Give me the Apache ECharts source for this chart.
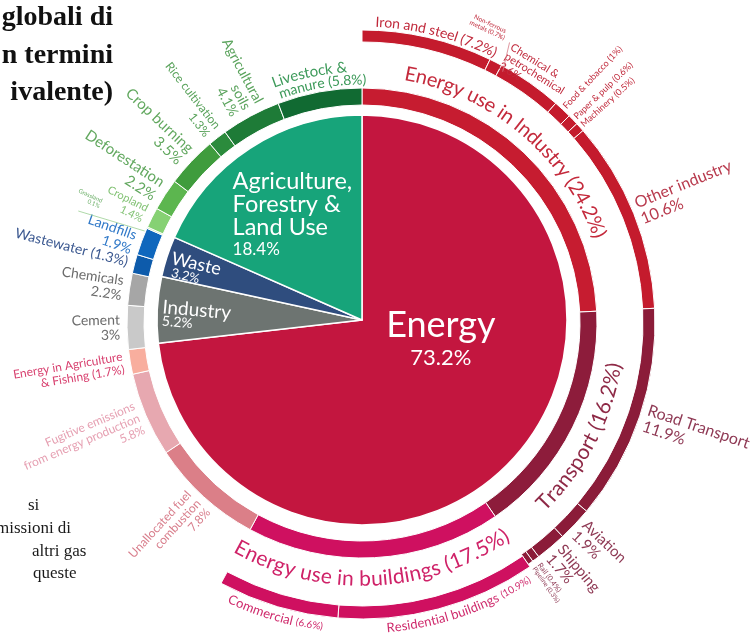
<!DOCTYPE html>
<html>
<head>
<meta charset="utf-8">
<script src="https://cdn.jsdelivr.net/npm/echarts@6/dist/echarts.min.js"></script>
<style>
  html, body { margin: 0; padding: 0; background: #ffffff; }
  #chart { width: 755px; height: 637px; }
</style>
</head>
<body>
<div id="chart"></div>
<script>
// ---- Global greenhouse gas emissions by sector (share of total, %) ----
const sectorNames = ['Energy', 'Industry', 'Waste', 'Agriculture, Forestry & Land Use'];
const sectorShares = [73.2, 5.2, 3.2, 18.4];

const energyUseNames = ['Energy use in Industry', 'Transport', 'Energy use in buildings',
  'Unallocated fuel combustion', 'Fugitive emissions from energy production', 'Energy in Agriculture & Fishing'];
const energyUseShares = [24.2, 16.2, 17.5, 7.8, 5.8, 1.7];

const processNames = ['Cement', 'Chemicals'];
const processShares = [3, 2.2];

const wasteNames = ['Wastewater', 'Landfills'];
const wasteShares = [1.3, 1.9];

const landUseNames = ['Grassland', 'Cropland', 'Deforestation', 'Crop burning',
  'Rice cultivation', 'Agricultural soils', 'Livestock & manure'];
const landUseShares = [0.1, 1.4, 2.2, 3.5, 1.3, 4.1, 5.8];

const industryEnergyNames = ['Iron and steel', 'Non-ferrous metals', 'Chemical & petrochemical',
  'Food & tobacco', 'Paper & pulp', 'Machinery', 'Other industry'];
const industryEnergyShares = [7.2, 0.7, 3.6, 1, 0.6, 0.5, 10.6];

const transportNames = ['Road Transport', 'Aviation', 'Shipping', 'Rail', 'Pipeline'];
const transportShares = [11.9, 1.9, 1.7, 0.4, 0.3];

const buildingNames = ['Residential buildings', 'Commercial'];
const buildingShares = [10.9, 6.6];

// Surrounding page text
const titleLines = ['globali di', 'n termini', 'ivalente)'];
const noteLines = ['si', 'missioni di', 'altri gas', 'queste'];

// ---- geometry & style ----
const CX = 362, CY = 323;        // rings
const CY_PIE = 320;              // inner pie
const R_PIE = 205;
const R_MID = [218, 235];
const R_OUT = [281, 293];
const R_BLD = [283, 296];
const FONT = "Lato, 'Open Sans', sans-serif";

const sectorColors = ['#c3163f', '#6d7471', '#2f4d7e', '#17a47a'];
const energyUseColors = ['#c61c30', '#8d1c3b', '#cf1060', '#db7f88', '#e7a8b0', '#f8ae9e'];
const processColors = ['#c9c9c9', '#a6a6a6'];
const wasteColors = ['#0d5bab', '#0f67bd'];
const landUseColors = ['#b7e6a0', '#86d173', '#5cb64f', '#3f9c3d', '#2b8b3c', '#1e7b37', '#116a32'];
const industryEnergyColor = '#c41b2d';
const transportColor = '#8b1c39';
const buildingColor = '#cf1060';

const sum = a => a.reduce((s, v) => s + v, 0);
const rad = d => d * Math.PI / 180;
const pct = v => v + '%';

function polar(phi, r, cy) {
  return [CX + r * Math.sin(rad(phi)), (cy === undefined ? CY : cy) - r * Math.cos(rad(phi))];
}
function spansFrom(values, startShare) {
  let acc = startShare;
  return values.map(v => {
    const a0 = acc * 3.6; acc += v; const a1 = acc * 3.6;
    return { a0, a1, mid: (a0 + a1) / 2, v };
  });
}

const energySpans = spansFrom(energyUseShares, 0);
const processSpans = spansFrom(processShares, sectorShares[0]);
const wasteSpans = spansFrom(wasteShares, sectorShares[0] + sectorShares[1]);
const landSpans = spansFrom(landUseShares, sectorShares[0] + sectorShares[1] + sectorShares[2]);
const indSpans = spansFrom(industryEnergyShares, 0);
const trSpans = spansFrom(transportShares, energyUseShares[0]);
const bldSpans = spansFrom(buildingShares, energyUseShares[0] + energyUseShares[1]);

// ---- pie series ----
function item(name, value, color, border) {
  return { name, value, itemStyle: { color, borderColor: '#fff', borderWidth: border === undefined ? 1 : border } };
}
function gap(value) {
  return { name: '', value, itemStyle: { color: 'rgba(0,0,0,0)', borderWidth: 0 } };
}
function pieSeries(radius, data, cy) {
  return {
    type: 'pie', center: [CX, cy], radius, startAngle: 90, clockwise: true,
    silent: true, animation: false, minAngle: 0, avoidLabelOverlap: false, z: 2,
    label: { show: false }, labelLine: { show: false }, emphasis: { disabled: true },
    data
  };
}

const innerData = sectorNames.map((n, i) => item(n, sectorShares[i], sectorColors[i], 1.5));
const midData = [].concat(
  energyUseNames.map((n, i) => item(n, energyUseShares[i], energyUseColors[i])),
  processNames.map((n, i) => item(n, processShares[i], processColors[i])),
  wasteNames.map((n, i) => item(n, wasteShares[i], wasteColors[i])),
  landUseNames.map((n, i) => item(n, landUseShares[i], landUseColors[i]))
);
const outerData = [].concat(
  industryEnergyNames.map((n, i) => item(n, industryEnergyShares[i], industryEnergyColor)),
  transportNames.map((n, i) => item(n, transportShares[i], transportColor)),
  [gap(100 - sum(industryEnergyShares) - sum(transportShares))]
);
const buildingData = [].concat(
  [gap(energyUseShares[0] + energyUseShares[1])],
  buildingNames.map((n, i) => item(n, buildingShares[i], buildingColor)),
  [gap(100 - energyUseShares[0] - energyUseShares[1] - sum(buildingShares))]
);

// ---- text helpers ----
const measure = document.createElement('canvas').getContext('2d');

function textEl(str, x, y, rho, font, color, align, vAlign, lineHeight) {
  return {
    type: 'text', x, y, rotation: -rad(rho), silent: true, z: 100,
    style: {
      text: str, font, fill: color,
      align, verticalAlign: vAlign, textAlign: align, textVerticalAlign: vAlign,
      lineHeight: lineHeight || undefined
    }
  };
}
function px(size, weight) { return (weight || 'normal') + ' ' + size + 'px ' + FONT; }

// Text running along an arc; upper = clockwise with letters facing out,
// otherwise counter-clockwise with letters facing the centre.
function arcText(pieces, phiC, r, color, upper) {
  const chars = [];
  pieces.forEach(([s, font]) => {
    measure.font = font;
    for (const c of s) chars.push({ c, font, w: measure.measureText(c).width });
  });
  const deg = 180 / Math.PI;
  const total = sum(chars.map(o => o.w));
  const dir = upper ? 1 : -1;
  let phi = phiC - dir * (total / r) * deg / 2;
  return chars.map(o => {
    const h = (o.w / 2 / r) * deg;
    phi += dir * h;
    const [x, y] = polar(phi, r);
    const el = textEl(o.c, x, y, upper ? phi : phi + 180, o.font, color, 'center', 'middle');
    phi += dir * h;
    return el;
  });
}

// Text pointing along the radius, reading away from the ring.
function radial(phi, r, lines, size, color, lineHeight) {
  const right = phi < 180;
  const [x, y] = polar(phi, r);
  const rho = right ? phi - 90 : phi - 270;
  return textEl(lines.join('\n'), x, y, rho, px(size), color,
    right ? 'left' : 'right', 'middle', lineHeight || Math.round(size * 1.05));
}

function line(p0, p1, color) {
  return { type: 'line', silent: true, z: 100,
    shape: { x1: p0[0], y1: p0[1], x2: p1[0], y2: p1[1] },
    style: { stroke: color, lineWidth: 0.8 } };
}

const G = [];

// Sector labels inside the pie
(function () {
  const [ex, ey] = polar(93, 79, CY_PIE);
  G.push(textEl(sectorNames[0], ex, ey + 1, 0, px(36), '#ffffff', 'center', 'middle'));
  G.push(textEl(pct(sectorShares[0]), ex, ey + 34, 0, px(22), '#ffffff', 'center', 'middle'));

  const [ax, ay] = polar(319.2, 198, CY_PIE);
  G.push(textEl('Agriculture,\nForestry &\nLand Use', ax, ay, 0, px(23.5), '#ffffff', 'left', 'top', 23));
  G.push(textEl(pct(sectorShares[3]), ax, ay + 71, 0, px(17), '#ffffff', 'left', 'top'));

  const [wx, wy] = polar(288.7, 175, CY_PIE);
  G.push(textEl(sectorNames[2], wx, wy, 13, px(18), '#ffffff', 'center', 'middle'));
  const [vx, vy] = polar(284, 182, CY_PIE);
  G.push(textEl(pct(sectorShares[2]), vx, vy, 13, px(13), '#ffffff', 'center', 'middle'));

  const [ix, iy] = polar(273.7, 200, CY_PIE);
  G.push(textEl(sectorNames[1], ix, iy, 5, px(19), '#ffffff', 'left', 'middle'));
  const [jx, jy] = polar(269.7, 200, CY_PIE);
  G.push(textEl(pct(sectorShares[1]), jx, jy, 5, px(14), '#ffffff', 'left', 'middle'));
})();

// Curved group labels between the rings
G.push(...arcText([[energyUseNames[0] + ' (' + pct(energyUseShares[0]) + ')', px(20)]], 40, 253, '#c42a3c', true));
G.push(...arcText([[energyUseNames[1] + ' (' + pct(energyUseShares[1]) + ')', px(21)]], 117.5, 256, '#8e2946', false));
G.push(...arcText([[energyUseNames[2] + ' (' + pct(energyUseShares[2]) + ')', px(21)]], 177.5, 256, '#cf2268', false));

// Outer ring labels along the arc
G.push(...arcText([[industryEnergyNames[0] + ' (' + pct(industryEnergyShares[0]) + ')', px(14)]], 14.5, 301, '#c0293b', true));
G.push(...arcText([[buildingNames[1] + ' ', px(13)], ['(' + pct(buildingShares[1]) + ')', px(10)]],
  bldSpans[1].mid, 306, '#cf2a6c', false));
G.push(...arcText([[buildingNames[0] + ' ', px(13)], ['(' + pct(buildingShares[0]) + ')', px(10)]],
  bldSpans[0].mid - 4, 306, '#cf2a6c', false));

// Livestock label sits just above its segment
G.push(...arcText([['Livestock &', px(15)]], landSpans[6].mid - 1.5, 256, '#3d9a5a', true));
G.push(...arcText([['manure (' + pct(landUseShares[6]) + ')', px(14)]], landSpans[6].mid + 1, 243, '#3d9a5a', true));

// Industry sub-sector labels
G.push(radial(indSpans[6].mid, 298, [industryEnergyNames[6], pct(industryEnergyShares[6])], 16, '#b83a4d', 17));
G.push(radial(indSpans[3].mid, 296, [industryEnergyNames[3] + ' (' + pct(industryEnergyShares[3]) + ')'], 9, '#c0293b'));
G.push(radial(indSpans[4].mid, 296, [industryEnergyNames[4] + ' (' + pct(industryEnergyShares[4]) + ')'], 9, '#c0293b'));
G.push(radial(indSpans[5].mid, 296, [industryEnergyNames[5] + ' (' + pct(industryEnergyShares[5]) + ')'], 9, '#c0293b'));
(function () {
  const [cx, cy] = polar(indSpans[2].a0, 320);
  G.push(textEl('Chemical &\npetrochemical\n' + pct(industryEnergyShares[2]), cx, cy, 32, px(11), '#c0293b', 'left', 'top', 11));
  const [nx, ny] = polar(indSpans[1].mid - 4, 322);
  G.push(textEl('Non-ferrous\nmetals (' + pct(industryEnergyShares[1]) + ')', nx, ny, 25, px(6.5), '#c0293b', 'center', 'middle', 7));
  G.push(line(polar(indSpans[1].a1 + 0.8, 288), polar(indSpans[1].a1 - 0.7, 317), '#d77b86'));
})();

// Transport labels
G.push(radial(trSpans[0].mid, 299, [transportNames[0], pct(transportShares[0])], 16, '#8f3a55', 17));
G.push(radial(trSpans[1].mid, 299, [transportNames[1], pct(transportShares[1])], 15, '#8f3a55', 15));
G.push(radial(trSpans[2].mid, 299, [transportNames[2], pct(transportShares[2])], 15, '#8f3a55', 15));
G.push(radial(trSpans[3].mid, 299, [transportNames[3] + ' (' + pct(transportShares[3]) + ')'], 7.5, '#8f3a55'));
G.push(radial(trSpans[4].mid, 299, [transportNames[4] + ' (' + pct(transportShares[4]) + ')'], 6.5, '#8f3a55'));

// Left-hand labels reading towards the centre
G.push(radial(energySpans[5].mid, 242, ['Energy in Agriculture', '& Fishing (' + pct(energyUseShares[5]) + ')'], 12, '#d8406f', 13));
G.push(radial(energySpans[4].mid, 242, ['Fugitive emissions', 'from energy production', pct(energyUseShares[4])], 12, '#e6a0b2', 13));
G.push(radial(energySpans[3].mid, 242, ['Unallocated fuel', 'combustion', pct(energyUseShares[3])], 12, '#d87e8c', 13));
G.push(radial(processSpans[0].mid, 242, [processNames[0], pct(processShares[0])], 14, '#6b6b6b', 15));
G.push(radial(processSpans[1].mid, 242, [processNames[1], pct(processShares[1])], 14, '#6b6b6b', 15));
G.push(radial(wasteSpans[0].mid, 242, [wasteNames[0] + ' (' + pct(wasteShares[0]) + ')'], 14, '#3b5890', 15));
G.push(radial(wasteSpans[1].mid - 1, 242, [wasteNames[1], pct(wasteShares[1])], 14, '#2f78c8', 15));
G.push(radial(landSpans[0].mid + 0.6, 287, [landUseNames[0], pct(landUseShares[0])], 6, '#6aae66', 6));
G.push(line(polar(landSpans[0].mid - 1, 236), polar(landSpans[0].mid - 2.4, 305), '#9bcf93'));
G.push(radial(landSpans[1].mid, 243, [landUseNames[1], pct(landUseShares[1])], 11, '#82c274', 12));
G.push(radial(landSpans[2].mid, 243, [landUseNames[2], pct(landUseShares[2])], 15, '#62a85f', 16));
G.push(radial(landSpans[3].mid, 243, [landUseNames[3], pct(landUseShares[3])], 15, '#62a85f', 16));
G.push(radial(landSpans[4].mid, 243, [landUseNames[4], pct(landUseShares[4])], 12, '#5aa35c', 13));
G.push(radial(landSpans[5].mid, 243, ['Agricultural', 'soils', pct(landUseShares[5])], 14, '#5aa35c', 14));

// Fragments of the surrounding page text
const SERIF = "'Liberation Serif', 'DejaVu Serif', serif";
[32, 70, 107].forEach((y, i) => {
  G.push(textEl(titleLines[i], 113, y, 0, 'bold 28px ' + SERIF, '#111111', 'right', 'bottom'));
});
[[28, 514], [-4, 537], [32, 560], [33, 582]].forEach(([x, y], i) => {
  G.push(textEl(noteLines[i], x, y, 0, '17px ' + SERIF, '#1a1a1a', 'left', 'bottom'));
});

const chart = echarts.init(document.getElementById('chart'));
chart.setOption({
  backgroundColor: '#ffffff',
  animation: false,
  series: [
    pieSeries([0, R_PIE], innerData, CY_PIE),
    pieSeries(R_MID, midData, CY),
    pieSeries(R_OUT, outerData, CY),
    pieSeries(R_BLD, buildingData, CY)
  ],
  graphic: { elements: G }
});
</script>
</body>
</html>
